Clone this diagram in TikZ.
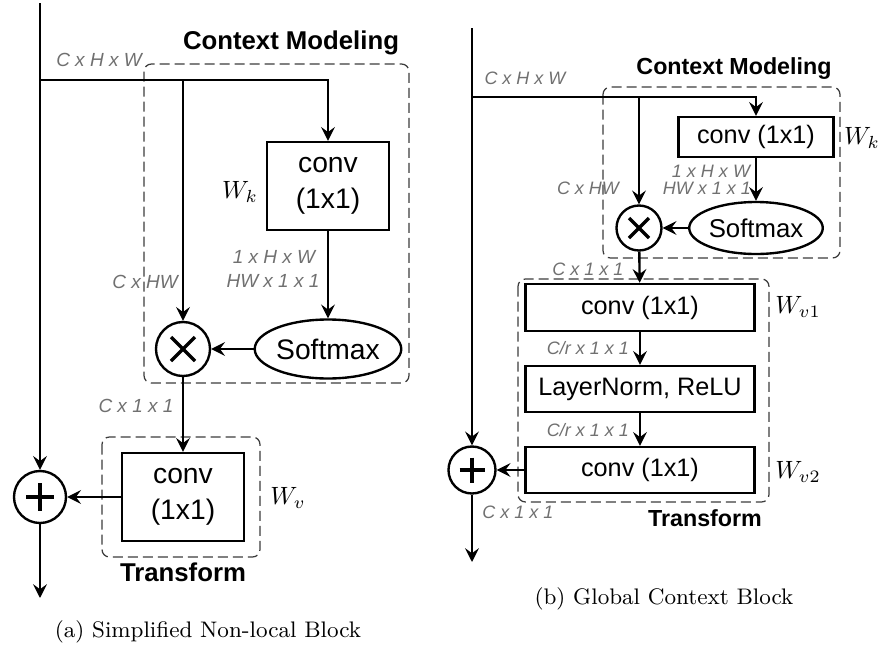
\documentclass[tikz,border=0pt]{standalone}
\usepackage{fontspec}
\newfontfamily\hsans{Liberation Sans}
\usetikzlibrary{arrows.meta,shapes.geometric}
\newcommand\pu{0.4pt}
\definecolor{lblgray}{HTML}{707070}
\definecolor{dashgray}{HTML}{3C3C3C}
\begin{document}
\begin{tikzpicture}[x=0.4pt,y=-0.4pt,
  conn/.style={line width=0.95pt,-{Stealth[length=5.5pt,width=5.5pt,inset=2pt]}},
  boxa/.style={draw,line width=0.95pt,inner sep=0,align=center,font=\hsans\fontsize{11.3}{14.5}\selectfont},
  boxb/.style={draw,line width=0.95pt,inner sep=0,align=center,font=\hsans\fontsize{10.1}{12}\selectfont},
  opcirc/.style={circle,draw,line width=0.95pt,inner sep=0},
  opsign/.style={line width=1.3pt},
  dima/.style={text=lblgray,inner sep=0,font=\hsans\itshape\fontsize{7.6}{9}\selectfont},
  dimb/.style={text=lblgray,inner sep=0,font=\hsans\itshape\fontsize{7.2}{9}\selectfont},
  grp/.style={draw=dashgray,dash pattern=on 4pt off 2pt,line width=0.5pt,rounded corners=3pt},
  ttla/.style={inner sep=0,font=\hsans\bfseries\fontsize{10.3}{12}\selectfont},
  ttlb/.style={inner sep=0,font=\hsans\bfseries\fontsize{9.3}{11}\selectfont},
  wlab/.style={inner sep=0,font=\fontsize{10}{12}\selectfont},
  captxt/.style={inner sep=0,font=\fontsize{9}{11}\selectfont}]
\useasboundingbox (0,0) rectangle (882,648);
% ---------------- (a) ----------------
\draw[grp] (144,64) rectangle (409,383);
\draw[grp] (102,437) rectangle (260,557);
\node[boxa,minimum width=122*\pu,minimum height=88*\pu] (ck) at (328,186) {conv\\(1x1)};
\node[ellipse,draw,line width=0.95pt,inner sep=0,minimum width=130*\pu,minimum height=59*\pu,font=\hsans\fontsize{11.3}{13}\selectfont] (sm) at (328,349) {Softmax};
\node[opcirc,minimum size=54*\pu] (tm) at (183,349) {};
\draw[opsign] ([shift={(-12,-12)}]tm.center) -- ([shift={(12,12)}]tm.center);
\draw[opsign] ([shift={(-12,12)}]tm.center) -- ([shift={(12,-12)}]tm.center);
\node[opcirc,minimum size=52*\pu] (pl) at (40,497) {};
\draw[opsign] ([shift={(-14,0)}]pl.center) -- ([shift={(14,0)}]pl.center);
\draw[opsign] ([shift={(0,-14)}]pl.center) -- ([shift={(0,14)}]pl.center);
\node[boxa,minimum width=122*\pu,minimum height=88*\pu] (cv) at (183,497) {conv\\(1x1)};
\coordinate (s0) at (40,3);
\coordinate (e0) at (40,598);
\coordinate (h0) at (40,80);
\coordinate (b0) at (183,80);
\draw[conn] (s0) -- (pl);
\draw[conn] (pl) -- (e0);
\draw[conn] (h0) -| (ck);
\draw[conn] (b0) -- (tm);
\draw[conn] (ck) -- (sm);
\draw[conn] (sm) -- (tm);
\draw[conn] (tm) -- (cv);
\draw[conn] (cv) -- (pl);
\node[dima] (la1) at (99,60) {C x H x W};
\node[dima] (la2) at (145,282) {C x HW};
\node[dima] (la3) at (274,257) {1 x H x W};
\node[dima] (la4) at (273,281) {HW x 1 x 1};
\node[dima] (la5) at (136,406) {C x 1 x 1};
\node[ttla] (ta1) at (291,43) {Context Modeling};
\node[ttla] (ta2) at (183,572) {Transform};
\node[wlab] (wa1) at (240,192) {$W_k$};
\node[wlab] (wa2) at (288,498) {$W_v$};
\node[captxt] (capa) at (208,632) {(a) Simplified Non-local Block};
% ---------------- (b) ----------------
\draw[grp] (603,87) rectangle (840,258);
\draw[grp] (518,279) rectangle (769,502);
\node[boxb,minimum width=155*\pu,minimum height=40*\pu] (ck2) at (756,137) {conv (1x1)};
\node[ellipse,draw,line width=0.95pt,inner sep=0,minimum width=117*\pu,minimum height=52*\pu,font=\hsans\fontsize{10.3}{12}\selectfont] (sm2) at (756,228) {Softmax};
\node[opcirc,minimum size=45*\pu] (tm2) at (639,228) {};
\draw[opsign] ([shift={(-10,-10)}]tm2.center) -- ([shift={(10,10)}]tm2.center);
\draw[opsign] ([shift={(-10,10)}]tm2.center) -- ([shift={(10,-10)}]tm2.center);
\node[opcirc,minimum size=47*\pu] (pl2) at (472,470) {};
\draw[opsign] ([shift={(-12.5,0)}]pl2.center) -- ([shift={(12.5,0)}]pl2.center);
\draw[opsign] ([shift={(0,-12.5)}]pl2.center) -- ([shift={(0,12.5)}]pl2.center);
\node[boxb,minimum width=229*\pu,minimum height=47*\pu] (v1) at (640,307.5) {conv (1x1)};
\node[boxb,minimum width=229*\pu,minimum height=46*\pu] (ln) at (640,389) {LayerNorm, ReLU};
\node[boxb,minimum width=229*\pu,minimum height=46*\pu] (v2) at (640,470) {conv (1x1)};
\coordinate (s1) at (472,28);
\coordinate (e1) at (472,562);
\coordinate (h1) at (472,97);
\coordinate (b1) at (639,97);
\draw[conn] (s1) -- (pl2);
\draw[conn] (pl2) -- (e1);
\draw[conn] (h1) -| (ck2);
\draw[conn] (b1) -- (tm2);
\draw[conn] (ck2) -- (sm2);
\draw[conn] (sm2) -- (tm2);
\draw[conn] (tm2) -- (v1);
\draw[conn] (v1) -- (ln);
\draw[conn] (ln) -- (v2);
\draw[conn] (v2) -- (pl2);
\node[dimb] (lb1) at (525,78) {C x H x W};
\node[dimb] (lb2) at (711,171) {1 x H x W};
\node[dimb] (lb3) at (707,188) {HW x 1 x 1};
\node[dimb] (lb4) at (588,188) {C x HW};
\node[dimb] (lb5) at (588,269) {C x 1 x 1};
\node[dimb] (lb6) at (588,348) {C/r x 1 x 1};
\node[dimb] (lb7) at (588,430) {C/r x 1 x 1};
\node[dimb] (lb8) at (518,512) {C x 1 x 1};
\node[ttlb] (tb1) at (734,69) {Context Modeling};
\node[ttlb] (tb2) at (705,518) {Transform};
\node[wlab] (wb1) at (862,138) {$W_k$};
\node[wlab] (wb2) at (798,307) {$W_{v1}$};
\node[wlab] (wb3) at (798,472) {$W_{v2}$};
\node[captxt] (capb) at (664,599) {(b) Global Context Block};
\end{tikzpicture}
\end{document}
